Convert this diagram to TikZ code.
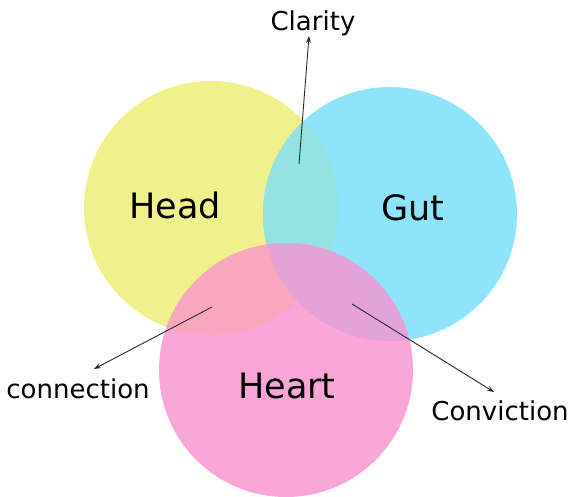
\documentclass[tikz,border=0pt]{standalone}
\usepackage{fontspec}
\setmainfont{DejaVu Sans}
\usetikzlibrary{arrows.meta}
\definecolor{cyel}{RGB}{241,241,139}
\definecolor{ccya}{RGB}{142,228,250}
\definecolor{cpin}{RGB}{250,166,216}
\definecolor{cyc}{RGB}{148,226,226}
\definecolor{cyp}{RGB}{249,167,190}
\definecolor{ccp}{RGB}{226,164,216}
\definecolor{ink}{RGB}{40,40,40}
\tikzset{
  big/.style={font=\fontsize{35}{40}\selectfont, text=black, inner sep=0pt},
  small/.style={font=\fontsize{26}{30}\selectfont, text=black, inner sep=0pt, anchor=base},
  pointer/.style={draw=ink, line width=0.9pt, -{Stealth[length=7pt,width=5pt]}}
}
\begin{document}
\begin{tikzpicture}[x=1pt,y=-1pt]
\useasboundingbox (0,0) rectangle (571,496);
\coordinate (ch) at (211,208);
\coordinate (cg) at (390,214);
\coordinate (ck) at (286,370);
\def\rr{127}
% base fills
\fill[cyel] (ch) circle (\rr);
\fill[ccya] (cg) circle (\rr);
\fill[cpin] (ck) circle (\rr);
% head & gut overlap
\begin{scope}
  \clip (ch) circle (\rr);
  \fill[cyc] (cg) circle (\rr);
\end{scope}
% pink overlaps
\begin{scope}
  \clip (ck) circle (\rr);
  \fill[cyp] (ch) circle (\rr);
  \fill[ccp] (cg) circle (\rr);
\end{scope}
% labels
\node[big] (head) at (175,205) {Head};
\node[big] (gut) at (413,208) {Gut};
\node[big] (heart) at (287,386) {Heart};
\node[small] (clarity) at (313,30) {Clarity};
\node[small] (connection) at (78,398) {connection};
\node[small] (conviction) at (500,420) {Conviction};
% arrows
\coordinate (t1) at (299,164);
\coordinate (h1) at (309,36);
\coordinate (t2) at (212,307);
\coordinate (h2) at (94,369);
\coordinate (t3) at (352,304);
\coordinate (h3) at (494,392);
\draw[pointer] (t1) -- (h1);
\draw[pointer] (t2) -- (h2);
\draw[pointer] (t3) -- (h3);
\end{tikzpicture}
\end{document}
